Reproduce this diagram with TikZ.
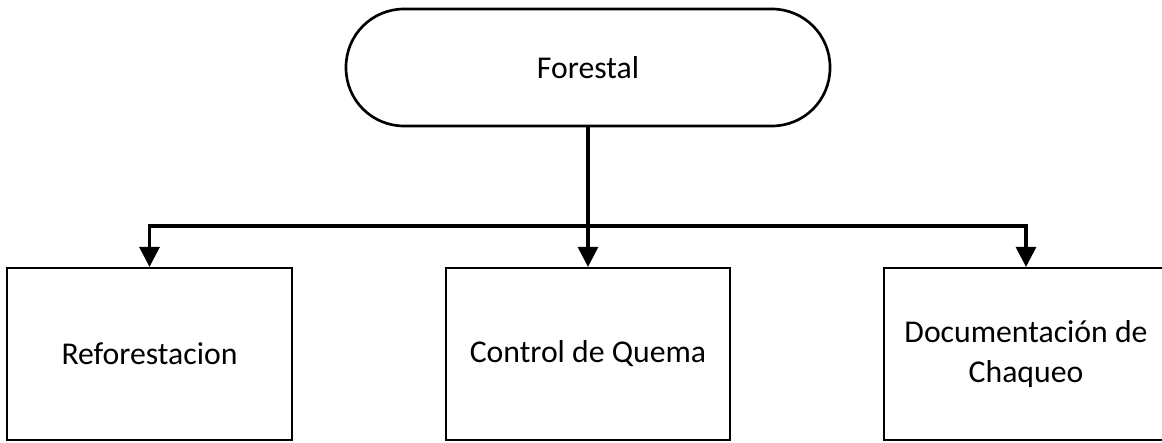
\documentclass[tikz,border=0pt]{standalone}
\usepackage{fontspec}
\setmainfont{Carlito}
\usetikzlibrary{arrows.meta}
\begin{document}
\begin{tikzpicture}[x=0.75pt,y=-0.75pt,
  term/.style={draw, line width=2pt, rounded corners=43.5pt, minimum width=363pt, minimum height=87.75pt, inner sep=0pt, font=\fontsize{23.8}{30}\selectfont},
  procbox/.style={draw, line width=1.6pt, minimum width=213.5pt, minimum height=129pt, inner sep=0pt, align=center, font=\fontsize{23.8}{30}\selectfont},
  conn/.style={line width=2.3pt, -{Triangle[length=15pt,width=15pt]}}]
\useasboundingbox (0,0) rectangle (1162,442);
\node[term] (top) at (588,67.5) {Forestal};
\node[procbox] (left) at (149.5,354) {Reforestacion};
\node[procbox] (mid) at (588,354) {Control de Quema};
\node[procbox] (right) at (1026,354) {Documentación de\\Chaqueo};
\coordinate (j) at (588,226);
\draw[conn] (top.south) -- (mid.north);
\draw[conn] (j) -| (left.north);
\draw[conn] (j) -| (right.north);
\end{tikzpicture}
\end{document}
